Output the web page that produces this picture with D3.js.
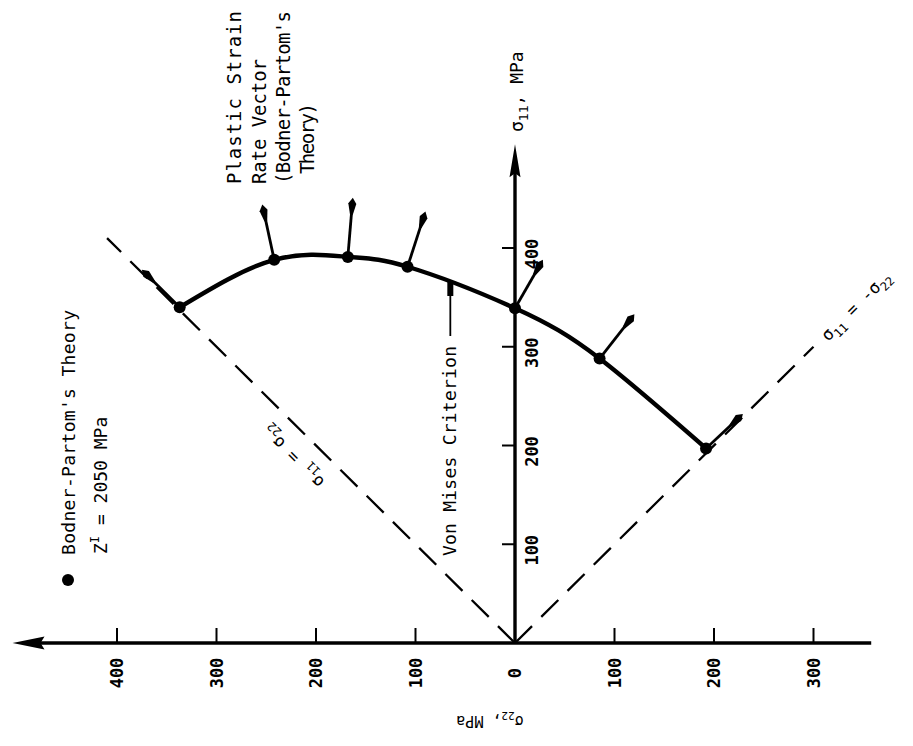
<!DOCTYPE html>
<html>
<head>
<meta charset="utf-8">
<script src="https://cdn.jsdelivr.net/npm/d3@7"></script>
<style>
  html, body { margin: 0; padding: 0; background: #fff; }
  svg { display: block; }
  text { font-family: "DejaVu Sans Mono", "Liberation Mono", monospace; fill: #000; }
</style>
</head>
<body>
<svg id="chart" width="913" height="746"></svg>
<script>
// ---- data (MPa) ----
const sigma22Ticks = [400, 300, 200, 100, 0, -100, -200, -300];
const sigma22TickLabels = ["400", "300", "200", "100", "0", "100", "200", "300"];
const sigma11Ticks = [100, 200, 300, 400];
const sigma11TickLabels = ["100", "200", "300", "400"];

// Bodner-Partom points on the yield surface (sigma22 positive to the left)
const pointSigma22 = [337, 242, 168, 108, 0, -85, -192];
const pointSigma11 = [340, 388, 391, 381, 339, 288, 197];
// plastic strain rate vectors (components, MPa units of the plot)
const vectorD22 = [38, 12, -5, -18, -28, -35, -37];
const vectorD11 = [38, 56, 60, 56, 49, 45, 35];

// axis and guide-line extents
const sigma11AxisMax = 505;
const sigma22AxisLeft = 505;
const sigma22AxisRight = -358;
const equalLineEnd = 410;      // sigma11 = sigma22
const oppositeLineEnd = 300;   // sigma11 = -sigma22
const vonMisesLabelAt = 65;    // sigma22 where the label arrow touches the curve

// ---- scales ----
const x = d3.scaleLinear().domain([0, 400]).range([515, 117]);
const y = d3.scaleLinear().domain([0, 400]).range([643, 248]);

const svg = d3.select("#chart");

// dashed guide lines
svg.append("line")
  .attr("x1", x(0)).attr("y1", y(0))
  .attr("x2", x(equalLineEnd)).attr("y2", y(equalLineEnd))
  .attr("stroke", "#000").attr("stroke-width", 2.3)
  .attr("stroke-dasharray", "24,13");
svg.append("line")
  .attr("x1", x(0)).attr("y1", y(0))
  .attr("x2", x(-oppositeLineEnd)).attr("y2", y(oppositeLineEnd))
  .attr("stroke", "#000").attr("stroke-width", 2.3)
  .attr("stroke-dasharray", "24,13");

// axes
svg.append("line")
  .attr("x1", x(sigma22AxisLeft) + 20).attr("y1", y(0))
  .attr("x2", x(sigma22AxisRight)).attr("y2", y(0))
  .attr("stroke", "#000").attr("stroke-width", 3.4);
svg.append("path")
  .attr("d", `M${x(sigma22AxisLeft)},${y(0)} L${x(sigma22AxisLeft) + 32},${y(0) - 6.5} L${x(sigma22AxisLeft) + 28},${y(0)} L${x(sigma22AxisLeft) + 32},${y(0) + 6.5} Z`)
  .attr("fill", "#000");

svg.append("line")
  .attr("x1", x(0)).attr("y1", y(0))
  .attr("x2", x(0)).attr("y2", y(sigma11AxisMax) + 20)
  .attr("stroke", "#000").attr("stroke-width", 3.4);
svg.append("path")
  .attr("d", `M${x(0)},${y(sigma11AxisMax)} L${x(0) - 5.5},${y(sigma11AxisMax) + 33} L${x(0)},${y(sigma11AxisMax) + 29} L${x(0) + 5.5},${y(sigma11AxisMax) + 33} Z`)
  .attr("fill", "#000");

// sigma22 ticks (upward)
svg.selectAll(".xtick").data(sigma22Ticks).enter().append("line")
  .attr("x1", d => x(d)).attr("x2", d => x(d))
  .attr("y1", y(0)).attr("y2", y(0) - 15)
  .attr("stroke", "#000").attr("stroke-width", 2);
svg.selectAll(".xlab").data(sigma22Ticks).enter().append("text")
  .attr("transform", d => `translate(${x(d) + 6},${y(0) + 30}) rotate(-90)`)
  .attr("text-anchor", "middle")
  .attr("font-size", 17).attr("font-weight", "bold")
  .text((d, i) => sigma22TickLabels[i]);

// sigma11 ticks (leftward)
svg.selectAll(".ytick").data(sigma11Ticks).enter().append("line")
  .attr("x1", x(0)).attr("x2", x(0) - 13)
  .attr("y1", d => y(d)).attr("y2", d => y(d))
  .attr("stroke", "#000").attr("stroke-width", 2);
svg.selectAll(".ylab").data(sigma11Ticks).enter().append("text")
  .attr("transform", d => `translate(${x(0) + 23},${y(d) + 6}) rotate(-90)`)
  .attr("text-anchor", "middle")
  .attr("font-size", 17).attr("font-weight", "bold")
  .text((d, i) => sigma11TickLabels[i]);

// yield surface curve through the points
const pts = pointSigma22.map((s, i) => [x(s), y(pointSigma11[i])]);
svg.append("path")
  .attr("d", d3.line().curve(d3.curveNatural)(pts))
  .attr("fill", "none").attr("stroke", "#000").attr("stroke-width", 4.4);

// plastic strain rate vectors
pointSigma22.forEach((s, i) => {
  const x0 = x(s), y0 = y(pointSigma11[i]);
  const x1 = x(s + vectorD22[i]), y1 = y(pointSigma11[i] + vectorD11[i]);
  const dx = x1 - x0, dy = y1 - y0, len = Math.hypot(dx, dy);
  const ux = dx / len, uy = dy / len, nx = -uy, ny = ux;
  svg.append("line")
    .attr("x1", x0).attr("y1", y0).attr("x2", x1 - ux * 6).attr("y2", y1 - uy * 6)
    .attr("stroke", "#000").attr("stroke-width", 2.8);
  const bx = x1 - ux * 17, by = y1 - uy * 17;
  const mx = x1 - ux * 6, my = y1 - uy * 6;
  svg.append("path")
    .attr("d", `M${x1},${y1} L${mx + nx * 4},${my + ny * 4} L${bx + nx * 1.4},${by + ny * 1.4} L${bx - nx * 1.4},${by - ny * 1.4} L${mx - nx * 4},${my - ny * 4} Z`)
    .attr("fill", "#000");
});

// points
svg.selectAll(".pt").data(pts).enter().append("circle")
  .attr("cx", d => d[0]).attr("cy", d => d[1]).attr("r", 6).attr("fill", "#000");

// Von Mises label with arrow
const vmX = x(vonMisesLabelAt);
svg.append("line")
  .attr("x1", vmX).attr("y1", 336).attr("x2", vmX).attr("y2", 290)
  .attr("stroke", "#000").attr("stroke-width", 1.8);
svg.append("path")
  .attr("d", `M${vmX - 3},282 L${vmX + 3},282 L${vmX + 3},296 L${vmX - 3},296 Z`)
  .attr("fill", "#000");
svg.append("text")
  .attr("transform", `translate(${vmX + 6},556) rotate(-90)`)
  .attr("font-size", 18).attr("textLength", 210).attr("lengthAdjust", "spacing")
  .text("Von Mises Criterion");

// Plastic strain rate vector label
const psLines = ["Plastic Strain", "Rate Vector", "(Bodner-Partom's", " Theory)"];
const psBase = [241, 266, 290, 314];
const psLen = [173, 125, 173, 81];
psLines.forEach((t, i) => {
  svg.append("text")
    .attr("transform", `translate(${psBase[i]},184) rotate(-90)`)
    .attr("font-size", 19)
    .attr("textLength", psLen[i]).attr("lengthAdjust", "spacing")
    .attr("xml:space", "preserve")
    .style("white-space", "pre")
    .text(t);
});

// axis labels
const yLab = svg.append("text")
  .attr("transform", `translate(523,132) rotate(-90)`)
  .attr("font-size", 18);
yLab.append("tspan").text("σ");
yLab.append("tspan").attr("font-size", 13).attr("dy", 5).text("11");
yLab.append("tspan").attr("dy", -5).text(", MPa");

const xLab = svg.append("text")
  .attr("transform", `translate(490,716) rotate(180)`)
  .attr("text-anchor", "middle")
  .attr("font-size", 15);
xLab.append("tspan").text("σ");
xLab.append("tspan").attr("font-size", 11).attr("dy", 4).text("22");
xLab.append("tspan").attr("dy", -4).text(", MPa");

// guide line labels
const eqLab = svg.append("text")
  .attr("transform", `translate(297,453) rotate(-135)`)
  .attr("text-anchor", "middle")
  .attr("font-size", 17);
eqLab.append("tspan").text("σ");
eqLab.append("tspan").attr("font-size", 12).attr("dy", 5).text("11");
eqLab.append("tspan").attr("dy", -5).text(" = σ");
eqLab.append("tspan").attr("font-size", 12).attr("dy", 5).text("22");

const opLab = svg.append("text")
  .attr("transform", `translate(828,342) rotate(-45)`)
  .attr("font-size", 17);
opLab.append("tspan").text("σ");
opLab.append("tspan").attr("font-size", 12).attr("dy", 5).text("11");
opLab.append("tspan").attr("dy", -5).text(" = -σ");
opLab.append("tspan").attr("font-size", 12).attr("dy", 5).text("22");

// legend
svg.append("circle").attr("cx", 68).attr("cy", 580).attr("r", 6).attr("fill", "#000");
svg.append("text")
  .attr("transform", `translate(75,555) rotate(-90)`)
  .attr("font-size", 18).attr("textLength", 245).attr("lengthAdjust", "spacing")
  .text("Bodner-Partom's Theory");
const lg2 = svg.append("text")
  .attr("transform", `translate(107,554) rotate(-90)`)
  .attr("font-size", 18);
lg2.append("tspan").text("Z");
lg2.append("tspan").attr("font-size", 12).attr("dy", -8).text("I");
lg2.append("tspan").attr("dy", 8).text(" = 2050 MPa");
</script>
</body>
</html>
